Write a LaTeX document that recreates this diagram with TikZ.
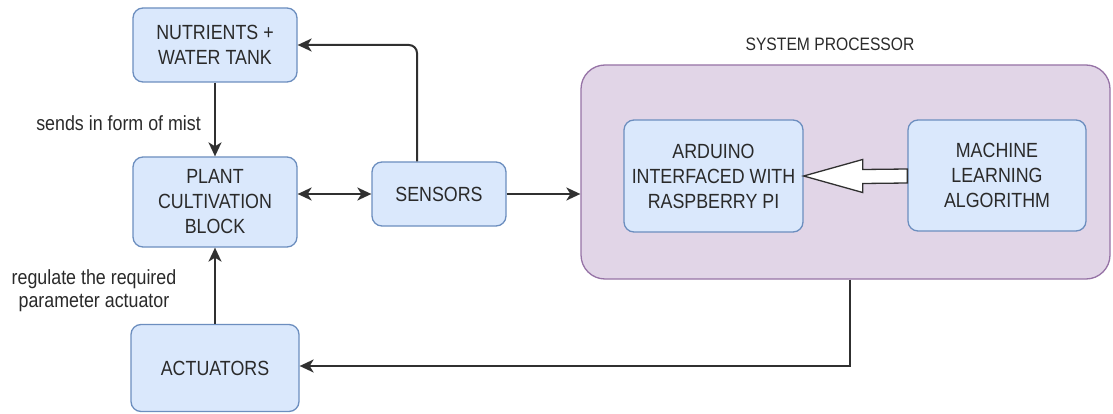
\documentclass[tikz,border=0pt]{standalone}
\usepackage{fontspec}
\setmainfont[FakeStretch=0.87]{Liberation Sans}
\usetikzlibrary{arrows.meta,calc}

\definecolor{boxfill}{HTML}{DAE8FC}
\definecolor{boxline}{HTML}{6C8EBF}
\definecolor{procfill}{HTML}{E1D5E7}
\definecolor{procline}{HTML}{9673A6}
\definecolor{ink}{HTML}{2A2A2A}
\definecolor{wire}{HTML}{303030}

\tikzset{
  block/.style={draw=boxline, fill=boxfill, line width=1.3pt, rounded corners=10pt,
    align=center, text=ink, inner sep=0pt, font=\fontsize{20.5}{25}\selectfont},
  procbox/.style={draw=procline, fill=procfill, line width=1.3pt, rounded corners=24pt,
    inner sep=0pt},
  tipshape/.style={Stealth[length=14pt,width=13pt,inset=4pt]},
  link/.style={draw=wire, line width=2pt, -{Stealth[length=14pt,width=13pt,inset=4pt]}},
  biglink/.style={draw=wire, line width=2pt,
    {Stealth[length=14pt,width=13pt,inset=4pt]}-{Stealth[length=14pt,width=13pt,inset=4pt]}},
  note/.style={text=ink, align=center, inner sep=0pt, font=\fontsize{20.5}{23}\selectfont},
}

\begin{document}
\begin{tikzpicture}[x=1pt,y=-1pt]
  \useasboundingbox[fill=white] (0,0) rectangle (1113,414);

  % system processor container and its title
  \node[procbox, minimum width=529pt, minimum height=214pt] (proc) at (845.5,172) {};
  \node[note, font=\fontsize{18}{20}\selectfont] (proctitle) at (830,44) {SYSTEM PROCESSOR};

  % left column
  \node[block, minimum width=164pt, minimum height=74pt] (nutr) at (215,45) {NUTRIENTS +\\WATER TANK};
  \node[block, minimum width=164pt, minimum height=90pt] (plant) at (215,202) {PLANT\\CULTIVATION\\BLOCK};
  \node[block, minimum width=168pt, minimum height=87pt] (act) at (215,368) {ACTUATORS};

  % sensors
  \node[block, minimum width=134pt, minimum height=64pt] (sens) at (439,194) {SENSORS};

  % inside the processor
  \node[block, minimum width=179pt, minimum height=112pt] (ard) at (713.5,176) {ARDUINO\\INTERFACED WITH\\RASPBERRY PI};
  \node[block, minimum width=178pt, minimum height=111pt] (ml) at (997,175.5) {MACHINE\\LEARNING\\ALGORITHM};

  % hollow block arrow from the learning algorithm to the controller
  \coordinate (tip) at (ard.east);
  \coordinate (tail) at (ml.west);
  \draw[draw=wire, fill=white, line width=1.3pt, line join=miter]
    (tip) -- ($(tip)+(59,-16.5)$) -- ($(tip)+(59,-6.5)$) -- ($(tail)+(0,-6.5)$)
    -- ($(tail)+(0,7.5)$) -- ($(tip)+(59,7.5)$) -- ($(tip)+(59,16.5)$) -- cycle;

  % connectors
  \draw[link] (nutr) -- (plant);
  \draw[biglink] (plant.east |- sens.west) -- (sens.west);
  \draw[link, rounded corners=8pt] ([xshift=-22pt]sens.north) |- (nutr.east);
  \draw[link] (sens.east) -- (sens.east -| proc.west);
  \draw[link] (act.north) -- (plant.south);
  \draw[link] ([xshift=4.5pt]proc.south) |- ([yshift=2pt]act.east);

  % connector labels
  \node[note, anchor=east] (mist) at (201,123) {sends in form of mist};
  \node[note] (regulate) at (94,291) {regulate the required\\parameter actuator};
\end{tikzpicture}
\end{document}
